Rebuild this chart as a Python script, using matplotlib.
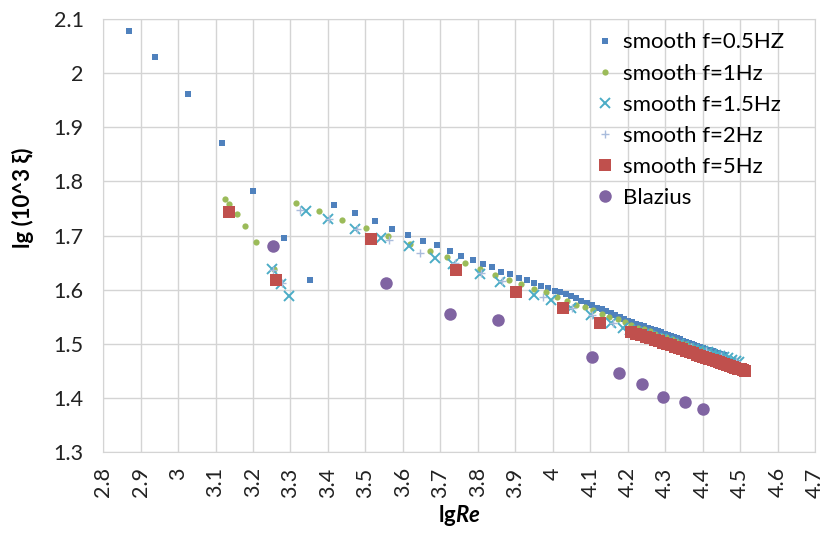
import numpy as np
import matplotlib.pyplot as plt

plt.rcParams['font.family'] = ['Lato', 'DejaVu Sans']
plt.rcParams['mathtext.fontset'] = 'custom'
plt.rcParams['mathtext.bf'] = 'Lato:bold'
plt.rcParams['mathtext.bfit'] = 'Lato:italic:bold'

# smooth f=0.5HZ
x_05 = [2.868, 2.939, 3.027, 3.117, 3.201, 3.282, 3.352, 3.416, 3.472, 3.525, 3.572,
        3.614, 3.653, 3.691, 3.725, 3.755, 3.787, 3.813, 3.838, 3.862, 3.886, 3.909,
        3.931, 3.951, 3.969, 3.987, 4.005, 4.020, 4.034, 4.048, 4.061,
        4.076, 4.090, 4.104, 4.117, 4.130, 4.143, 4.155, 4.167, 4.179, 4.190, 4.201,
        4.212, 4.223, 4.233, 4.243, 4.253, 4.263, 4.272, 4.281, 4.290, 4.299, 4.308,
        4.316, 4.324, 4.332, 4.340, 4.348, 4.356, 4.364, 4.371, 4.378, 4.386, 4.393,
        4.400, 4.407, 4.413, 4.420, 4.427, 4.433, 4.439, 4.446, 4.452, 4.456]
y_05 = [2.079, 2.031, 1.962, 1.872, 1.782, 1.696, 1.618, 1.756, 1.741, 1.727, 1.713,
        1.702, 1.690, 1.682, 1.672, 1.663, 1.655, 1.648, 1.642, 1.633, 1.629, 1.622,
        1.617, 1.612, 1.607, 1.603, 1.598, 1.595, 1.592, 1.588, 1.584,
        1.580, 1.575, 1.571, 1.567, 1.564, 1.560, 1.556, 1.553, 1.549, 1.546, 1.543,
        1.540, 1.537, 1.535, 1.532, 1.530, 1.527, 1.525, 1.523, 1.521, 1.518, 1.516,
        1.514, 1.512, 1.510, 1.508, 1.506, 1.504, 1.502, 1.500, 1.498, 1.496, 1.494,
        1.493, 1.491, 1.489, 1.488, 1.486, 1.484, 1.483, 1.481, 1.480, 1.479]

# smooth f=1Hz
x_1 = [3.125, 3.136, 3.156, 3.178, 3.207, 3.255, 3.314, 3.376, 3.438, 3.501, 3.560,
       3.618, 3.671, 3.717, 3.765, 3.805, 3.845, 3.883, 3.916, 3.951, 3.981, 4.011,
       4.039, 4.061, 4.085, 4.107, 4.132, 4.151, 4.173,
       4.192, 4.210, 4.227, 4.243, 4.259, 4.274, 4.289, 4.303, 4.317, 4.330, 4.343,
       4.356, 4.368, 4.380, 4.392, 4.403, 4.414, 4.425, 4.435, 4.446, 4.456, 4.465, 4.475]
y_1 = [1.768, 1.759, 1.740, 1.717, 1.688, 1.639, 1.761, 1.746, 1.729, 1.714, 1.700,
       1.685, 1.672, 1.660, 1.649, 1.638, 1.627, 1.618, 1.610, 1.601, 1.595, 1.586,
       1.580, 1.572, 1.568, 1.563, 1.555, 1.550, 1.545,
       1.540, 1.535, 1.530, 1.527, 1.523, 1.519, 1.515, 1.512, 1.508, 1.505, 1.502,
       1.499, 1.496, 1.493, 1.490, 1.487, 1.484, 1.481, 1.479, 1.476, 1.474, 1.472, 1.469]

# smooth f=1.5Hz
x_15 = [3.250, 3.276, 3.297, 3.342, 3.399, 3.471, 3.542, 3.616, 3.685, 3.734, 3.805,
        3.858, 3.951, 3.996, 4.049, 4.102, 4.156, 4.187,
        4.207, 4.225, 4.243, 4.260, 4.277, 4.292, 4.308, 4.322, 4.337, 4.350, 4.364,
        4.377, 4.389, 4.401, 4.413, 4.425, 4.436, 4.447, 4.458, 4.468, 4.479, 4.489, 4.498]
y_15 = [1.638, 1.611, 1.589, 1.745, 1.731, 1.713, 1.695, 1.680, 1.659, 1.648, 1.629,
        1.615, 1.590, 1.581, 1.566, 1.553, 1.539, 1.529,
        1.525, 1.521, 1.518, 1.514, 1.511, 1.508, 1.505, 1.502, 1.499, 1.496, 1.493,
        1.491, 1.488, 1.486, 1.484, 1.481, 1.479, 1.477, 1.475, 1.473, 1.470, 1.468, 1.466]

# smooth f=2Hz
x_2 = [3.253, 3.278, 3.325, 3.404, 3.478, 3.562, 3.645, 3.738, 3.808, 3.865, 3.973,
       4.052, 4.105, 4.160, 4.210, 4.250, 4.290, 4.330, 4.370, 4.410, 4.450, 4.490]
y_2 = [1.636, 1.613, 1.748, 1.731, 1.712, 1.692, 1.667, 1.649, 1.631, 1.616, 1.586,
       1.566, 1.553, 1.539, 1.526, 1.518, 1.510, 1.502, 1.494, 1.486, 1.478, 1.469]

# smooth f=5Hz
x_5 = [3.135, 3.261, 3.516, 3.742, 3.902, 4.027, 4.127,
       4.210, 4.223, 4.236, 4.248, 4.260, 4.272, 4.283, 4.295, 4.305, 4.316, 4.326,
       4.337, 4.346, 4.356, 4.366, 4.375, 4.384, 4.393, 4.401, 4.410, 4.418, 4.427,
       4.435, 4.443, 4.450, 4.458, 4.465, 4.473, 4.480, 4.487, 4.494, 4.501, 4.508, 4.513]
y_5 = [1.743, 1.617, 1.693, 1.636, 1.596, 1.566, 1.539,
       1.522, 1.519, 1.516, 1.513, 1.510, 1.507, 1.505, 1.502, 1.499, 1.497, 1.494,
       1.492, 1.490, 1.487, 1.485, 1.483, 1.480, 1.478, 1.476, 1.474, 1.472, 1.470,
       1.468, 1.466, 1.465, 1.463, 1.461, 1.459, 1.458, 1.456, 1.454, 1.453, 1.451, 1.450]

# Blazius
x_bl = [3.252, 3.554, 3.727, 3.853, 4.105, 4.176, 4.238, 4.293, 4.354, 4.402]
y_bl = [1.680, 1.612, 1.555, 1.544, 1.475, 1.446, 1.425, 1.401, 1.393, 1.379]

x_ticks = [2.8, 2.9, 3.0, 3.1, 3.2, 3.3, 3.4, 3.5, 3.6, 3.7, 3.8, 3.9,
           4.0, 4.1, 4.2, 4.3, 4.4, 4.5, 4.6, 4.7]
y_ticks = [1.3, 1.4, 1.5, 1.6, 1.7, 1.8, 1.9, 2.0, 2.1]

fig, ax = plt.subplots(figsize=(8.25, 5.33), dpi=100)
fig.subplots_adjust(left=0.125, right=0.988, top=0.964, bottom=0.152)

ax.plot(x_05, y_05, 's', color='#4F81BD', ms=4.5, mew=0, label='smooth f=0.5HZ')
ax.plot(x_1, y_1, 'o', color='#9BBB59', ms=4.5, mew=0, label='smooth f=1Hz')
ax.plot(x_15, y_15, 'x', color='#4BACC6', ms=6.5, mew=1.4, label='smooth f=1.5Hz')
ax.plot(x_2, y_2, '+', color='#A9BCDC', ms=6, mew=1.0, label='smooth f=2Hz')
ax.plot(x_5, y_5, 's', color='#C0504D', ms=8, mew=0, label='smooth f=5Hz')
ax.plot(x_bl, y_bl, 'o', color='#8064A2', ms=9, mew=0, label='Blazius')

ax.set_xlim(2.8, 4.7)
ax.set_ylim(1.3, 2.1)
ax.set_xticks(x_ticks)
ax.set_xticklabels([f'{t:g}' for t in x_ticks], rotation=90)
ax.set_yticks(y_ticks)
ax.set_yticklabels([f'{t:g}' for t in y_ticks])
ax.tick_params(axis='both', length=0, labelsize=15.5, colors='#222222')
ax.tick_params(axis='y', pad=14)
ax.tick_params(axis='x', pad=11)

ax.grid(True, color='#d4d4d4', lw=1)
ax.set_axisbelow(True)
for s in ax.spines.values():
    s.set_color('#d4d4d4')

ax.set_ylabel('lg (10^3 ξ)', fontsize=16, fontweight='bold')
ax.yaxis.set_label_coords(-0.097, 0.587)
ax.set_xlabel(r'$\mathbf{lg}\mathbfit{Re}$', fontsize=16, labelpad=4)

ax.legend(loc='upper left', bbox_to_anchor=(0.68, 0.99), frameon=False,
          fontsize=16, handlelength=0.8, handletextpad=0.4, labelspacing=0.5,
          borderaxespad=0)

plt.savefig('out.png', dpi=100)
